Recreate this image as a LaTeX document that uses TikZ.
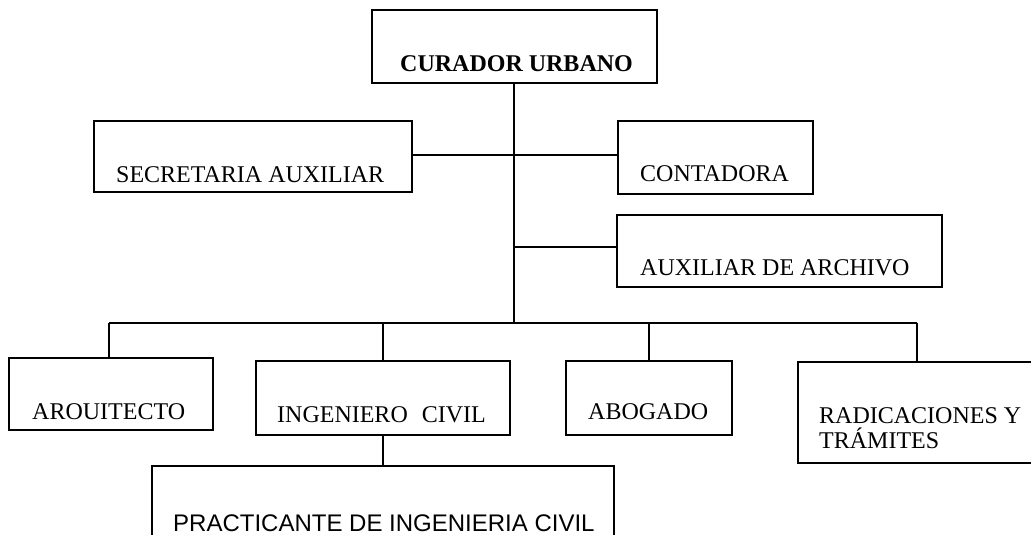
\documentclass[tikz,border=0pt]{standalone}
\usepackage{fontspec}
\setmainfont{Liberation Serif}
\setsansfont{Liberation Sans}
\begin{document}
\begin{tikzpicture}[x=1pt,y=-1pt,
  box/.style={draw=black, line width=2.4pt, rectangle, inner sep=0pt},
  txt/.style={anchor=base west, inner sep=0pt, font=\fontsize{24}{25}\selectfont},
  link/.style={draw=black, line width=2.4pt}]
\useasboundingbox (0,0) rectangle (1031,535);
\clip (0,0) rectangle (1031,535);
% boxes
\node[box, minimum width=285pt, minimum height=73pt] (cur) at (514.5,46.5) {};
\node[box, minimum width=318pt, minimum height=71pt] (sec) at (253,156.5) {};
\node[box, minimum width=195pt, minimum height=73pt] (con) at (715.5,157.5) {};
\node[box, minimum width=325pt, minimum height=72pt] (aux) at (779.5,251) {};
\node[box, minimum width=204pt, minimum height=72pt] (arq) at (111,394) {};
\node[box, minimum width=254pt, minimum height=74pt] (ing) at (383,398) {};
\node[box, minimum width=166pt, minimum height=74pt] (abo) at (649,398) {};
\node[box, minimum width=242pt, minimum height=101pt] (rad) at (919,412.5) {};
\node[box, minimum width=462pt, minimum height=100pt] (pra) at (383,516) {};
% texts
\node[txt, font=\fontsize{24}{25}\selectfont\bfseries] (tcur) at (400,71) {CURADOR URBANO};
\node[txt] (tsec) at (116,182) {SECRETARIA AUXILIAR};
\node[txt] (tcon) at (640,181) {CONTADORA};
\node[txt] (taux) at (640,275) {AUXILIAR DE ARCHIVO};
\node[txt] (tarq) at (32,419) {AROUITECTO};
\node[txt] (ting) at (277,422) {INGENIERO\hspace*{14pt}CIVIL};
\node[txt] (tabo) at (588,419) {ABOGADO};
\node[txt] (trad1) at (819,423) {RADICACIONES Y};
\node[txt] (trad2) at (819,448) {TRÁMITES};
\node[txt, font=\fontsize{24}{25}\selectfont\sffamily] (tpra) at (173,531) {PRACTICANTE DE INGENIERIA CIVIL};
% junctions
\coordinate (j1) at (514,155);
\coordinate (j2) at (514,247);
\coordinate (bus) at (514,323);
\coordinate (busL) at (109,323);
\coordinate (busR) at (917,323);
% connectors
\draw[link] (cur.south -| bus) -- (bus);
\draw[link] (sec.east |- j1) -- (con.west |- j1);
\draw[link] (j2) -- (aux.west |- j2);
\draw[link] (busL) -- (busR);
\draw[link] (busL) -- (busL |- arq.north);
\draw[link] (ing.north |- bus) -- (ing.north);
\draw[link] (abo.north |- bus) -- (abo.north);
\draw[link] (busR) -- (busR |- rad.north);
\draw[link] (ing.south) -- (ing.south |- pra.north);
\end{tikzpicture}
\end{document}
